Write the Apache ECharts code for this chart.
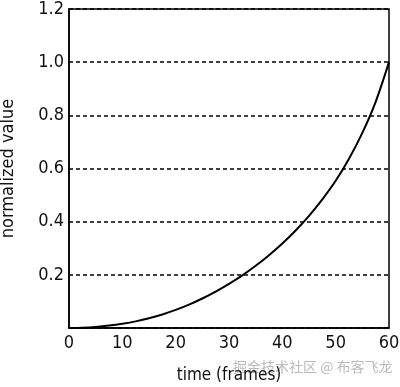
<!DOCTYPE html>
<html>
<head>
<meta charset="utf-8">
<script src="https://cdn.jsdelivr.net/npm/echarts@6/dist/echarts.min.js"></script>
<style>html,body{margin:0;padding:0;background:#fff;}#c{width:400px;height:387px;}</style>
</head>
<body>
<div id="c"></div>
<script>
var frames = [0, 2.5, 5, 7.5, 10, 12.5, 15, 17.5, 20, 22.5, 25, 27.5, 30, 32.5, 35, 37.5, 40, 42.5, 45, 47.5, 50, 52.5, 55, 57.5, 60];
var values = [0, 0.001, 0.004, 0.009, 0.016, 0.025, 0.037, 0.051, 0.068, 0.088, 0.111, 0.137, 0.166, 0.198, 0.234, 0.274, 0.318, 0.367, 0.422, 0.484, 0.554, 0.637, 0.734, 0.851, 1.0];
var xTicks = [0, 10, 20, 30, 40, 50, 60];
var yTicks = [0, 0.2, 0.4, 0.6, 0.8, 1.0, 1.2];
var xTitle = 'time (frames)';
var yTitle = 'normalized value';
var watermark = '掘金技术社区 @ 布客飞龙';

var FONT = '"DejaVu Sans Condensed", "Liberation Sans Narrow", sans-serif';
var chart = echarts.init(document.getElementById('c'), null, {renderer: 'canvas'});
chart.setOption({
  animation: false,
  backgroundColor: '#fff',
  grid: {left: 69, right: 11, top: 9, bottom: 59, containLabel: false, outerBoundsMode: 'none',
    show: true, borderColor: '#000', borderWidth: 1.5, backgroundColor: 'transparent'},
  xAxis: {
    type: 'value', min: xTicks[0], max: xTicks[xTicks.length - 1], interval: 10,
    name: xTitle, nameLocation: 'middle', nameGap: 39,
    nameTextStyle: {fontFamily: FONT, fontSize: 17, color: '#111'},
    axisLine: {show: true, lineStyle: {color: '#000', width: 1.5}},
    axisTick: {show: false},
    splitLine: {show: false},
    axisLabel: {fontFamily: FONT, fontSize: 18, color: '#111', margin: 6,
      formatter: function (v) { return xTicks.indexOf(v) >= 0 ? String(v) : ''; }}
  },
  yAxis: {
    type: 'value', min: yTicks[0], max: yTicks[yTicks.length - 1], interval: 0.2,
    name: yTitle, nameLocation: 'middle', nameGap: 52, nameRotate: 90,
    nameTextStyle: {fontFamily: FONT, fontSize: 18, color: '#111'},
    axisLine: {show: true, lineStyle: {color: '#000', width: 1.5}},
    axisTick: {show: false},
    splitLine: {show: true, lineStyle: {color: '#000', width: 1.5, type: [4, 3]}},
    axisLabel: {fontFamily: FONT, fontSize: 18, color: '#111', margin: 5,
      formatter: function (v) { return v === 0 ? '' : v.toFixed(1); }}
  },
  series: [{
    type: 'line',
    data: frames.map(function (t, i) { return [t, values[i]]; }),
    smooth: 0.3,
    showSymbol: false,
    lineStyle: {color: '#000', width: 2}
  }],
  graphic: [{
    type: 'text', left: 233, top: 360, silent: true,
    style: {text: watermark, fill: 'rgba(120,120,120,0.5)', fontSize: 14, fontFamily: '"Noto Sans CJK SC", sans-serif'}
  }]
});
</script>
</body>
</html>
